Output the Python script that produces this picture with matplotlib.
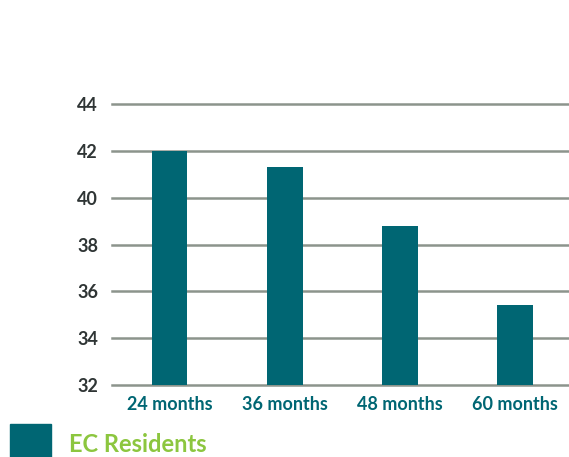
import matplotlib.pyplot as plt
from matplotlib.patches import Rectangle

categories = ["24 months", "36 months", "48 months", "60 months"]
values = [42.0, 41.3, 38.8, 35.4]
yticks = [32, 34, 36, 38, 40, 42, 44]
series_name = "EC Residents"

teal = "#006673"
green = "#8cc63f"
grid_col = "#8c948c"

plt.rcParams["font.family"] = ["Lato", "DejaVu Sans"]

fig = plt.figure(figsize=(5.69, 4.57), dpi=100)
ax = fig.add_axes([112 / 569, 1 - 385 / 457, 1 - 112 / 569, (385 - 104) / 457])

# gridlines behind bars
for t in yticks:
    ax.axhline(t, color=grid_col, lw=1.8, zorder=1, clip_on=False)

x = range(len(categories))
ax.bar(x, [v - yticks[0] for v in values], bottom=yticks[0], width=0.31,
       color=teal, zorder=2)

ax.set_ylim(yticks[0], yticks[-1])
ax.set_xlim(-0.5, 3.47)
ax.set_yticks(yticks)
ax.set_yticklabels([str(t) for t in yticks], fontsize=13, fontweight="bold",
                   color="#2f3535")
ax.set_xticks(list(x))
ax.set_xticklabels(categories, fontsize=13, fontweight="bold", color=teal)
ax.tick_params(axis="y", length=0, pad=10)
ax.tick_params(axis="x", length=0, pad=8)
for s in ax.spines.values():
    s.set_visible(False)

# legend drawn manually at bottom left
fig.patches.append(Rectangle((10 / 569, 0), 41 / 569, 33 / 457,
                             transform=fig.transFigure, color=teal))
fig.text(69 / 569, 1 - 445 / 457, series_name, fontsize=17, fontweight="bold",
         color=green, va="center", ha="left")

fig.savefig("out.png", dpi=100)
